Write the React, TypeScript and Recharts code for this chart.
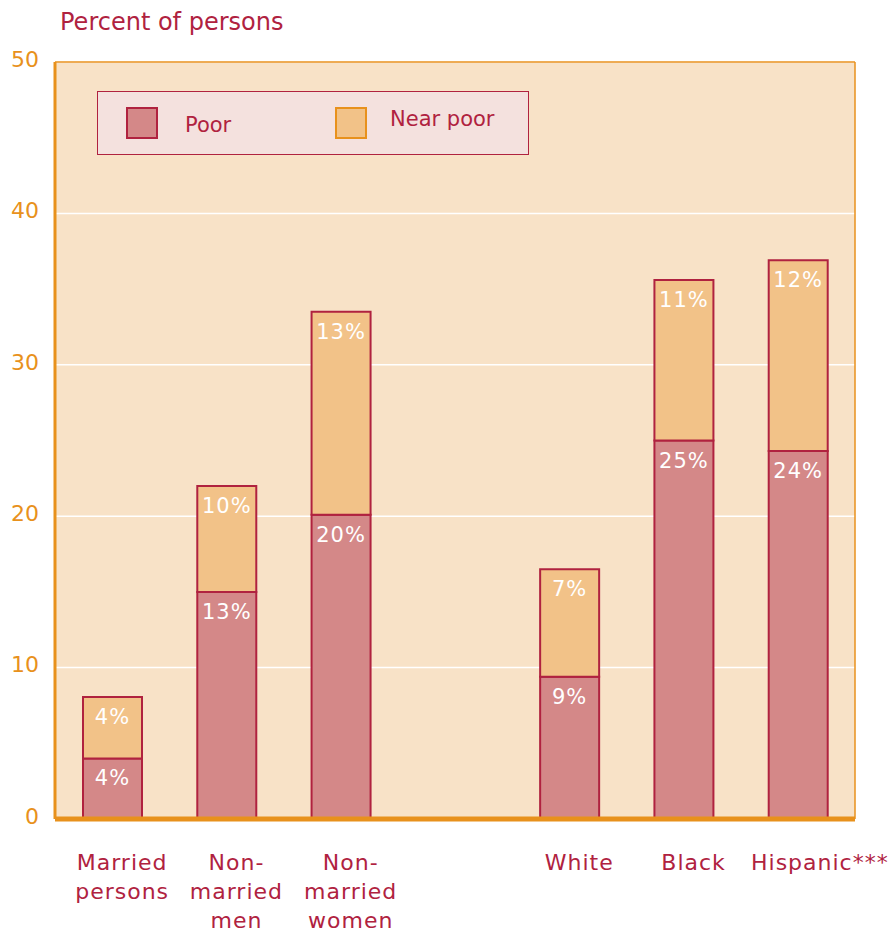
import React from 'react';
import { BarChart, Bar, XAxis, YAxis, CartesianGrid, Legend, LabelList, ReferenceLine } from 'recharts';

const categories = ['Married persons', 'Non-married men', 'Non-married women', '', 'White', 'Black', 'Hispanic***'];
const tickLines = [['Married', 'persons'], ['Non-', 'married', 'men'], ['Non-', 'married', 'women'], [], ['White'], ['Black'], ['Hispanic***']];
const poorValues = [4, 15, 20.1, null, 9.4, 25.0, 24.3];
const nearPoorValues = [4.05, 7, 13.4, null, 7.1, 10.6, 12.6];
const poorLabels = ['4%', '13%', '20%', '', '9%', '25%', '24%'];
const nearPoorLabels = ['4%', '10%', '13%', '', '7%', '11%', '12%'];
const yTicks = [0, 10, 20, 30, 40, 50];

const CRIMSON = '#b0223f';
const ORANGE = '#e8911c';
const POOR_FILL = '#d48888';
const NEAR_FILL = '#f2c288';
const FONT = '"DejaVu Sans", sans-serif';

const data = categories.map((name, i) => ({
  name,
  idx: i,
  poor: poorValues[i],
  nearPoor: nearPoorValues[i],
}));

const CategoryTick = (props: any) => {
  const { x, y, index } = props;
  const lines = tickLines[index] || [];
  const shift = index === 6 ? 22 : 10;
  return (
    <text x={x + shift} y={y} textAnchor="middle" fill={CRIMSON} fontFamily={FONT} fontSize={22} letterSpacing={1}>
      {lines.map((line, j) => (
        <tspan key={j} x={x + shift} dy={j === 0 ? 43 : 29}>{line}</tspan>
      ))}
    </text>
  );
};

// the label list gets the category index as its value, so empty slots do not shift labels
const makeBarLabel = (labels: string[]) => (props: any) => {
  const { x, y, width, value } = props;
  const text = labels[value];
  if (!text) return null;
  return (
    <text x={x + width / 2} y={y + 27} textAnchor="middle" fill="#ffffff" fontFamily={FONT} fontSize={21} letterSpacing={1}>
      {text}
    </text>
  );
};

const LegendBox = () => (
  <div style={{
    width: 430, height: 62, background: '#f4e1de', border: `1px solid ${CRIMSON}`,
    position: 'relative', fontFamily: FONT, fontSize: 21, color: CRIMSON,
  }}>
    <div style={{ position: 'absolute', left: 28, top: 15, width: 28, height: 28, background: POOR_FILL, border: `2px solid ${CRIMSON}` }} />
    <span style={{ position: 'absolute', left: 87, top: 21 }}>Poor</span>
    <div style={{ position: 'absolute', left: 237, top: 15, width: 28, height: 28, background: NEAR_FILL, border: `2px solid ${ORANGE}` }} />
    <span style={{ position: 'absolute', left: 292, top: 15 }}>Near poor</span>
  </div>
);

export default function App() {
  return (
    <div style={{ position: 'absolute', left: 0, top: 0, width: 896, height: 930, background: '#ffffff' }}>
      <div style={{ position: 'absolute', left: 60, top: 8, fontFamily: FONT, fontSize: 24, color: CRIMSON }}>
        Percent of persons
      </div>
      <BarChart
        width={896}
        height={930}
        data={data}
        barCategoryGap={0}
        margin={{ top: 62, right: 0, left: 0, bottom: 0 }}
      >
        <CartesianGrid horizontal vertical={false} stroke="#ffffff" strokeWidth={1.5} fill="#f8e2c7" />
        <XAxis
          dataKey="idx"
          type="category"
          height={111}
          tick={<CategoryTick />}
          tickLine={false}
          interval={0}
          axisLine={{ stroke: ORANGE, strokeWidth: 5 }}
        />
        <YAxis
          domain={[0, 50]}
          ticks={yTicks}
          width={55}
          tickLine={false}
          tickMargin={10}
          axisLine={{ stroke: ORANGE, strokeWidth: 3 }}
          tick={{ fill: ORANGE, fontSize: 22, fontFamily: FONT, dy: -3 }}
        />
        <YAxis
          yAxisId="right"
          orientation="right"
          domain={[0, 50]}
          width={41}
          tick={false}
          tickLine={false}
          axisLine={{ stroke: ORANGE, strokeWidth: 1.5 }}
        />
        <ReferenceLine y={50} stroke={ORANGE} strokeWidth={1.5} />
        <Legend
          verticalAlign="middle"
          align="center"
          content={<LegendBox />}
          wrapperStyle={{ position: 'absolute', left: 97, top: 91, width: 432, height: 64 }}
        />
        <Bar dataKey="poor" stackId="a" barSize={59} fill={POOR_FILL} stroke={CRIMSON} strokeWidth={2} isAnimationActive={false}>
          <LabelList dataKey="idx" content={makeBarLabel(poorLabels)} />
        </Bar>
        <Bar dataKey="nearPoor" stackId="a" barSize={59} fill={NEAR_FILL} stroke={CRIMSON} strokeWidth={2} isAnimationActive={false}>
          <LabelList dataKey="idx" content={makeBarLabel(nearPoorLabels)} />
        </Bar>
      </BarChart>
    </div>
  );
}
